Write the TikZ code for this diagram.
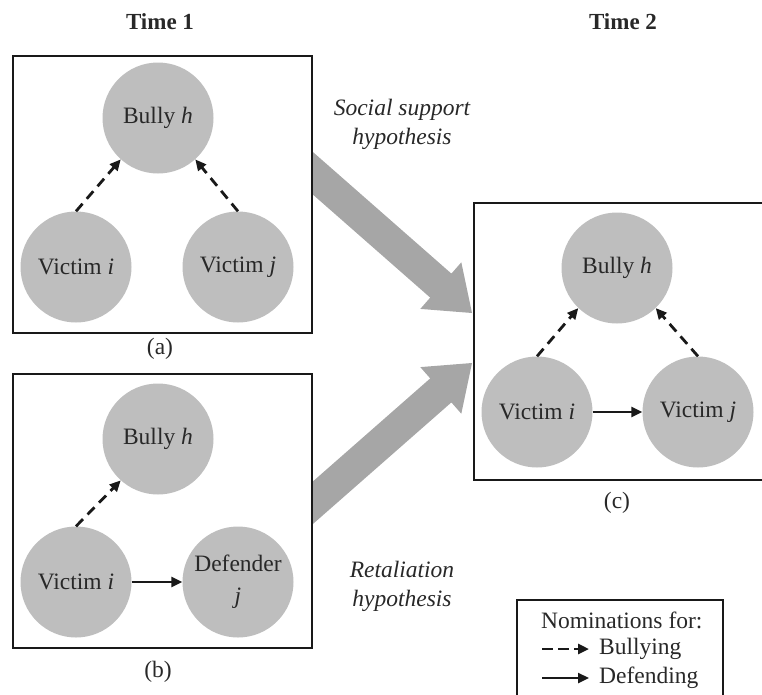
\documentclass[tikz,border=0pt]{standalone}
\usepackage{fontspec}
\setmainfont{Liberation Serif}
\usetikzlibrary{arrows.meta}
\definecolor{circfill}{RGB}{190,190,190}
\definecolor{bigarrow}{RGB}{166,166,166}
\definecolor{txt}{RGB}{40,40,40}
\definecolor{ink}{RGB}{25,25,25}
\begin{document}
\begin{tikzpicture}[x=1pt,y=-1pt,
  every node/.style={font=\fontsize{23.5}{29}\selectfont, text=txt, inner sep=0pt},
  person/.style={circle, fill=circfill, minimum size=111pt, inner sep=0pt, align=center},
  frame/.style={draw=ink, line width=2.2pt},
  bullyarr/.style={draw=ink, line width=2.8pt, dash pattern=on 10pt off 6.5pt, -{Triangle[length=11pt,width=10pt]}},
  defendarr/.style={draw=ink, line width=2.4pt, -{Triangle[length=11pt,width=10pt]}},
  hyp/.style={font=\fontsize{23.5}{29}\selectfont\itshape, align=center},
  timelab/.style={font=\fontsize{23}{27}\selectfont\bfseries},
  big/.style={fill=bigarrow}
]
\useasboundingbox (0,0) rectangle (762,694);

% big arrows (drawn first)
\coordinate (tipA) at (472,313);
\coordinate (tipB) at (472,363);
\fill[big] (312,151.2) -- (451.4,273.6) -- (461.3,262.3) -- (tipA) -- (420.3,308.9) -- (430.2,297.6) -- (312,193.8) -- cycle;
\fill[big] (312,524.8) -- (451.4,402.4) -- (461.3,413.7) -- (tipB) -- (420.3,367.1) -- (430.2,378.4) -- (312,482.2) -- cycle;

% frames
\node[frame, minimum width=299pt, minimum height=277pt] (boxa) at (162.5,194.5) {};
\node[frame, minimum width=299pt, minimum height=274pt] (boxb) at (162.5,511) {};
\coordinate (cTR) at (763,203);
\coordinate (cBR) at (763,480);
\draw[frame] (cTR) -- (474,203) -- (474,480) -- (cBR);

% titles
\node[timelab] (time1) at (160,22) {Time 1};
\node[timelab] (time2) at (623,22) {Time 2};

% panel (a)
\node[person] (bha) at (158,118) {Bully \textit{h}};
\node[person] (via) at (76,267) {Victim \textit{i}};
\node[person] (vja) at (238,267) {Victim \textit{j}};
\draw[bullyarr] (via.90) -- (bha.228);
\draw[bullyarr] (vja.90) -- (bha.312);
\node (laba) at (160,349) {(a)};

% panel (b)
\node[person] (bhb) at (158,439) {Bully \textit{h}};
\node[person] (vib) at (76,582) {Victim \textit{i}};
\node[person] (djb) at (238,582) {Defender\\[3pt]\textit{j}};
\draw[bullyarr] (vib.90) -- (bhb.228);
\draw[defendarr] (vib.east) -- (djb.west);
\node (labb) at (158,672) {(b)};

% panel (c)
\node[person] (bhc) at (617,268) {Bully \textit{h}};
\node[person] (vic) at (537,412) {Victim \textit{i}};
\node[person] (vjc) at (698,412) {Victim \textit{j}};
\draw[bullyarr] (vic.90) -- (bhc.226);
\draw[bullyarr] (vjc.90) -- (bhc.314);
\draw[defendarr] (vic.east) -- (vjc.west);
\node (labc) at (617,503) {(c)};

% hypotheses
\node[hyp] (soc) at (402,124) {Social support\\hypothesis};
\node[hyp] (ret) at (402,586) {Retaliation\\hypothesis};

% legend
\coordinate (lgBL) at (517,695);
\coordinate (lgBR) at (723,695);
\draw[frame] (lgBL) -- (517,600) -- (723,600) -- (lgBR);
\node[anchor=west] (leg1) at (541,620) {Nominations for:};
\node[anchor=west] (leg2) at (599,649) {Bullying};
\node[anchor=west] (leg3) at (599,678) {Defending};
\coordinate (lb1) at (542,649);
\coordinate (lb2) at (542,678);
\draw[bullyarr, dash pattern=on 11pt off 5pt] (lb1) -- ([xshift=-10pt]leg2.west);
\draw[defendarr] (lb2) -- ([xshift=-10pt]leg3.west);
\end{tikzpicture}
\end{document}
